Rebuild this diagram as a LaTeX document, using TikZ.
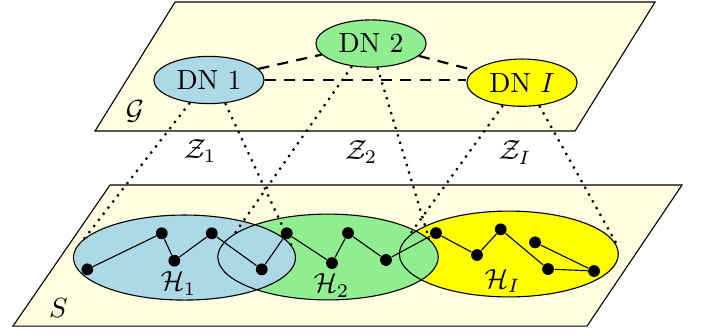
\documentclass[tikz,border=0pt]{standalone}
\usepackage{amsmath}
\usepackage{amsfonts}
\usepackage{tikz}
\usetikzlibrary{shapes.geometric}
\usepackage{xcolor}

\definecolor{planeyellow}{RGB}{255,254,224}
\definecolor{dnblue}{RGB}{173,216,230}
\definecolor{dngreen}{RGB}{144,238,144}
\definecolor{dnyellow}{RGB}{255,255,0}

\tikzset{
    dnode/.style={ellipse, draw, inner sep=1pt, minimum width=1.4cm, minimum height=0.6cm},
    hset/.style={ellipse, inner sep=0pt, minimum width=2.8cm, minimum height=1.09cm},
    vert/.style={circle, fill=black, inner sep=0pt, minimum size=0.15cm},
    dnlink/.style={thick, dash pattern=on 4pt off 3pt},
    proj/.style={thick, dotted}
}

\begin{document}
\begin{tikzpicture}
    \useasboundingbox (0,0) rectangle (8.915,4.255);

    % Draw the lower plane S
    \filldraw[fill=planeyellow] (0.165,0.114) -- (7.455,0.114) -- (8.661,1.905) -- (1.397,1.905) -- cycle;
    \node (S) at (0.743,0.349) {\(S\)};

    % Draw the upper plane G
    \filldraw[fill=planeyellow] (1.207,2.591) -- (7.303,2.591) -- (8.319,4.229) -- (2.223,4.229) -- cycle;
    \node (G) at (1.715,2.845) {\(\mathcal{G}\)};

    % Fill the subgraph regions
    \node[hset, fill=dnyellow] (HI) at (6.462,1.029) {};
    \node[hset, fill=dngreen] (H2) at (4.166,0.991) {};
    \node[hset, fill=dnblue] (H1) at (2.343,0.984) {};

    % Draw the outlines of the subgraph regions
    \draw (HI.center) ellipse (1.39 and 0.545);
    \draw (H2.center) ellipse (1.40 and 0.545);
    \draw (H1.center) ellipse (1.41 and 0.54);

    % Label the subgraph regions
    \node (H1lab) at (2.267,0.654) {\(\mathcal{H}_1\)};
    \node (H2lab) at (4.210,0.629) {\(\mathcal{H}_2\)};
    \node (HIlab) at (6.382,0.686) {\(\mathcal{H}_I\)};

    % Draw the vertices of the sensor graph
    \node[vert] (v1) at (1.109,0.834) {};
    \node[vert] (v2) at (2.054,1.292) {};
    \node[vert] (v3) at (2.214,0.944) {};
    \node[vert] (v4) at (2.689,1.292) {};
    \node[vert] (v5) at (3.324,0.834) {};
    \node[vert] (v6) at (3.641,1.292) {};
    \node[vert] (v7) at (4.216,0.914) {};
    \node[vert] (v8) at (4.420,1.295) {};
    \node[vert] (v9) at (4.902,0.953) {};
    \node[vert] (v10) at (5.537,1.295) {};
    \node[vert] (v11) at (6.058,1.016) {};
    \node[vert] (v12) at (6.359,1.342) {};
    \node[vert] (v13) at (6.960,0.838) {};
    \node[vert] (v14) at (7.544,0.813) {};
    \node[vert] (v15) at (6.795,1.177) {};

    % Draw the edges of the sensor graph
    \draw (v1) -- (v2) -- (v3) -- (v4) -- (v5) -- (v6) -- (v7) -- (v8) -- (v9) -- (v10)
          -- (v11) -- (v12) -- (v13) -- (v14) -- (v15);

    % Draw the data nodes
    \node[dnode, fill=dnblue] (DN1) at (2.654,3.239) {DN 1};
    \node[dnode, fill=dngreen] (DN2) at (4.712,3.702) {DN 2};
    \node[dnode, fill=dnyellow] (DNI) at (6.629,3.205) {DN \(I\)};

    % Draw the links between the data nodes
    \draw[dnlink] (DN1) -- (DN2);
    \draw[dnlink] (DN2) -- (DNI);
    \draw[dnlink] (DN1) -- (DN1 -| DNI.west);

    % Draw the projections onto the subgraphs
    \draw[proj] (DN1.230) -- (H1.170);
    \draw[proj] (DN1.305) -- (H1.5);
    \draw[proj] (DN2.230) -- (H2.166);
    \draw[proj] (DN2.285) -- (H2.10);
    \draw[proj] (DNI.230) -- (HI.169);
    \draw[proj] (DNI.307) -- (HI.5);

    % Label the projections
    \node (Z1) at (2.540,2.337) {\(\mathcal{Z}_1\)};
    \node (Z2) at (4.585,2.324) {\(\mathcal{Z}_2\)};
    \node (ZI) at (6.541,2.318) {\(\mathcal{Z}_I\)};
\end{tikzpicture}
\end{document}
